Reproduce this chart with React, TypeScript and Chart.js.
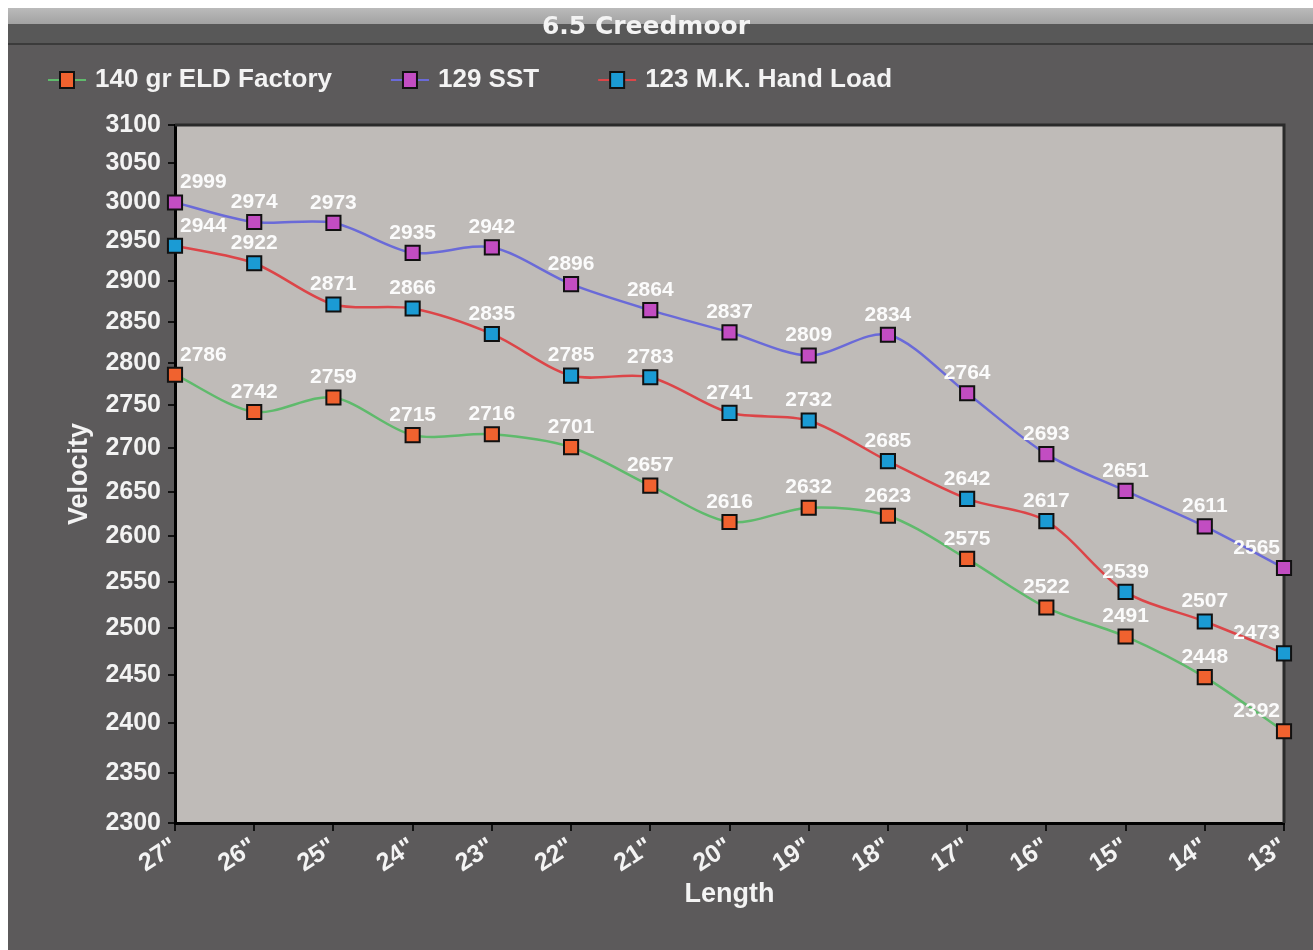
import { useEffect, useRef } from "react";
import { Chart, registerables } from "chart.js";

Chart.register(...registerables);

const lengths = ['27"', '26"', '25"', '24"', '23"', '22"', '21"', '20"', '19"', '18"', '17"', '16"', '15"', '14"', '13"'];
const eldFactory = [2786, 2742, 2759, 2715, 2716, 2701, 2657, 2616, 2632, 2623, 2575, 2522, 2491, 2448, 2392];
const sst129 = [2999, 2974, 2973, 2935, 2942, 2896, 2864, 2837, 2809, 2834, 2764, 2693, 2651, 2611, 2565];
const mkHandLoad = [2944, 2922, 2871, 2866, 2835, 2785, 2783, 2741, 2732, 2685, 2642, 2617, 2539, 2507, 2473];
const velocityTicks = [2300, 2350, 2400, 2450, 2500, 2550, 2600, 2650, 2700, 2750, 2800, 2850, 2900, 2950, 3000, 3050, 3100];
const seriesNames = ["140 gr ELD Factory", "129 SST", "123 M.K. Hand Load"];
const lineColors = ["#5fba6c", "#6a6ad8", "#dc4548"];
const markerColors = ["#f0622f", "#c24dc2", "#1b9bd4"];

const FONT = '"Liberation Sans", Arial, sans-serif';
const TEXT = "#f3f3f3";

const chromePlugin = {
  id: "chrome",
  beforeDraw(chart: any) {
    const { ctx, width, height, chartArea: a } = chart;
    ctx.save();
    ctx.fillStyle = "#5c5a5b";
    ctx.fillRect(0, 0, width, height);
    const g = ctx.createLinearGradient(0, 0, 0, 16);
    g.addColorStop(0, "#bababa");
    g.addColorStop(1, "#a2a2a2");
    ctx.fillStyle = g;
    ctx.fillRect(0, 0, width, 16);
    ctx.fillStyle = "#585858";
    ctx.fillRect(0, 16, width, 19);
    ctx.fillStyle = "#3b3b3b";
    ctx.fillRect(0, 35, width, 2);
    ctx.fillStyle = "#bfbbb8";
    ctx.fillRect(a.left, a.top, a.right - a.left, a.bottom - a.top);
    ctx.restore();
  },
  beforeDatasetsDraw(chart: any) {
    const { ctx, chartArea: a } = chart;
    ctx.save();
    ctx.strokeStyle = "#2a2a2a";
    ctx.lineWidth = 3;
    ctx.beginPath();
    ctx.moveTo(a.left, a.top);
    ctx.lineTo(a.right, a.top);
    ctx.lineTo(a.right, a.bottom);
    ctx.stroke();
    ctx.restore();
  },
  afterDatasetsDraw(chart: any) {
    const { ctx, chartArea: a } = chart;
    ctx.save();
    ctx.font = `bold 21px ${FONT}`;
    ctx.fillStyle = "#fbfbfb";
    ctx.textAlign = "left";
    ctx.textBaseline = "middle";
    chart.data.datasets.forEach((ds: any, i: number) => {
      const meta = chart.getDatasetMeta(i);
      meta.data.forEach((pt: any, j: number) => {
        const text = String(ds.data[j]);
        const w = ctx.measureText(text).width;
        let x = pt.x - w / 2;
        x = Math.max(a.left + 5, Math.min(x, a.right - 4 - w));
        ctx.fillText(text, x, pt.y - 20);
      });
    });
    ctx.restore();
  },
  afterDraw(chart: any) {
    const { ctx } = chart;
    ctx.save();
    ctx.font = `bold 26px ${FONT}`;
    ctx.textBaseline = "middle";
    ctx.textAlign = "left";
    let x = 40;
    const y = 72;
    chart.data.datasets.forEach((ds: any) => {
      ctx.strokeStyle = ds.borderColor;
      ctx.lineWidth = 2;
      ctx.beginPath();
      ctx.moveTo(x, y);
      ctx.lineTo(x + 38, y);
      ctx.stroke();
      ctx.fillStyle = ds.pointBackgroundColor;
      ctx.fillRect(x + 12, y - 8, 14, 16);
      ctx.strokeStyle = "#111";
      ctx.lineWidth = 2;
      ctx.strokeRect(x + 12, y - 8, 14, 16);
      ctx.fillStyle = TEXT;
      ctx.fillText(ds.label, x + 47, y);
      x += 47 + ctx.measureText(ds.label).width + 59;
    });
    ctx.restore();
  },
};

export default function App() {
  const ref = useRef<HTMLCanvasElement | null>(null);

  useEffect(() => {
    document.body.style.margin = "8px 0 0 8px";
    document.body.style.overflow = "hidden";
    const canvas = ref.current;
    if (!canvas) return;
    const seriesData = [eldFactory, sst129, mkHandLoad];
    const chart = new Chart(canvas, {
      type: "line",
      data: {
        labels: lengths,
        datasets: seriesData.map((d, i) => ({
          label: seriesNames[i],
          data: d,
          borderColor: lineColors[i],
          borderWidth: 2.5,
          pointStyle: "rect",
          pointRadius: 10,
          pointBorderWidth: 2,
          pointBorderColor: "#111",
          pointBackgroundColor: markerColors[i],
          tension: 0.3,
          fill: false,
          clip: false,
        })),
      },
      options: {
        responsive: false,
        animation: false,
        layout: { padding: { left: 0, right: 29, top: 0, bottom: 0 } },
        plugins: {
          legend: { display: false },
          tooltip: { enabled: false },
          title: {
            display: true,
            text: "6.5 Creedmoor",
            color: TEXT,
            font: { family: '"DejaVu Sans", sans-serif', size: 25, weight: "bold" },
            padding: { top: 4, bottom: 83 },
          },
        },
        scales: {
          x: {
            type: "category",
            grid: { display: true, drawOnChartArea: false, drawTicks: true, tickLength: 8, color: "#111", lineWidth: 2 },
            border: { display: true, color: "#000", width: 3 },
            ticks: {
              color: TEXT,
              font: { family: FONT, size: 25, weight: "bold" },
              minRotation: 33,
              maxRotation: 33,
              padding: 1,
              autoSkip: false,
            },
            title: {
              display: true,
              text: "Length",
              color: TEXT,
              font: { family: FONT, size: 27, weight: "bold" },
              padding: { top: 0, bottom: 38.8 },
            },
            afterFit: (s: any) => {
              s.height = 127;
            },
          },
          y: {
            type: "logarithmic",
            min: 2300,
            max: 3100,
            afterBuildTicks: (s: any) => {
              s.ticks = velocityTicks.map((v) => ({ value: v }));
            },
            grid: { display: true, drawOnChartArea: false, drawTicks: true, tickLength: 7, color: "#111", lineWidth: 2 },
            border: { display: true, color: "#000", width: 3 },
            ticks: {
              color: TEXT,
              font: { family: FONT, size: 25, weight: "bold" },
              padding: 7,
              autoSkip: false,
              callback: (v: any) => String(v),
            },
            title: {
              display: true,
              text: "Velocity",
              color: TEXT,
              font: { family: FONT, size: 27, weight: "bold" },
              padding: { top: 55.8, bottom: 0 },
            },
            afterFit: (s: any) => {
              s.width = 167;
            },
          },
        },
      } as any,
      plugins: [chromePlugin],
    });
    return () => chart.destroy();
  }, []);

  return (
    <div style={{ width: 1305, height: 942 }}>
      <canvas ref={ref} width={1305} height={942} style={{ display: "block", width: 1305, height: 942 }} />
    </div>
  );
}
